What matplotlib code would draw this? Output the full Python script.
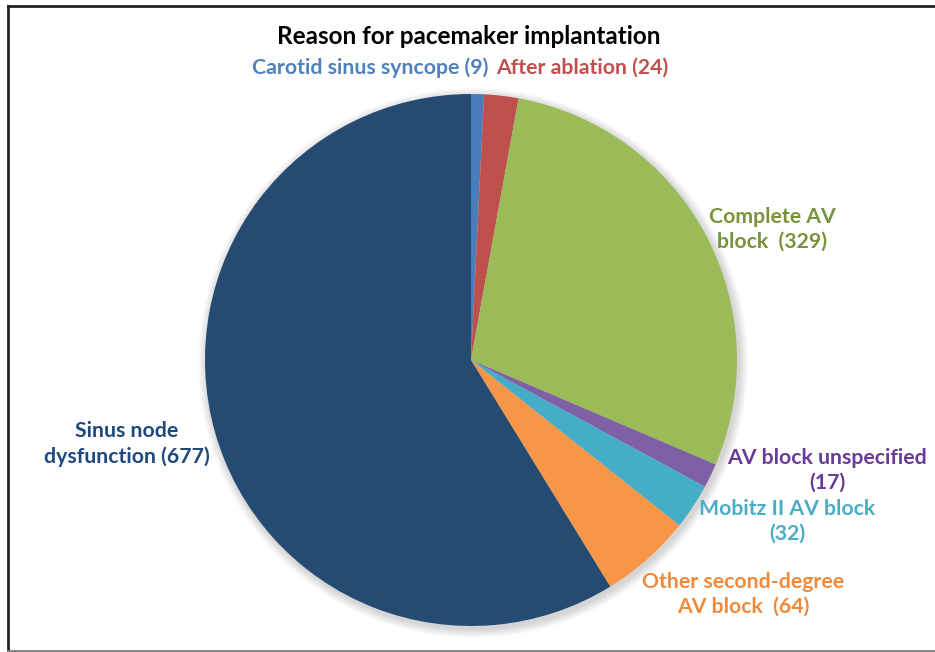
import matplotlib.pyplot as plt
from matplotlib.patches import Circle

# Причины имплантации ЭКС (по часовой стрелке от 12 часов)
reasons = ["Carotid sinus syncope ", "After ablation ", "Complete AV\nblock  ",
           "AV block unspecified\n", "Mobitz II AV block\n",
           "Other second-degree\nAV block  ", "Sinus node\ndysfunction "]
counts = [9, 24, 329, 17, 32, 64, 677]
slice_colors = ["#4A7EBB", "#C0504D", "#9BBB59", "#7F5FA5", "#44ADC8",
                "#F79646", "#264B73"]
text_colors = ["#4F81BD", "#C0504D", "#77933C", "#6A3A98", "#4BACC6",
               "#F08A3A", "#1F497D"]

plt.rcParams['font.family'] = ['Lato', 'DejaVu Sans']

fig = plt.figure(figsize=(9.35, 6.52), dpi=100)
ax = fig.add_axes([0, 0, 1, 1])

cx, cy, r = 471, 292, 266

# мягкая тень под диаграммой
for i in range(7):
    ax.add_patch(Circle((cx + 2, cy - 3), r + 1 + i * 1.3, color="k",
                        alpha=0.025, lw=0, zorder=0))

ax.pie(counts, colors=slice_colors, startangle=90, counterclock=False,
       center=(cx, cy), radius=r, wedgeprops=dict(linewidth=0),
       frame=False)
ax.set_xlim(0, 935)
ax.set_ylim(0, 652)
ax.set_aspect("equal")
ax.axis("off")

ax.text(469, 652 - 36, "Reason for pacemaker implantation", ha="center",
        va="center", fontsize=17.5, fontweight="bold", color="black")

labels = [f"{name}({n})" for name, n in zip(reasons, counts)]
fs = 15.3

# две маленькие доли подписаны в одну строку над диаграммой
ax.text(488, 652 - 68, labels[0], ha="right", va="center", fontsize=fs,
        fontweight="bold", color=text_colors[0])
ax.text(496, 652 - 68, labels[1], ha="left", va="center", fontsize=fs,
        fontweight="bold", color=text_colors[1])

# остальные подписи: центр (x, y) в пикселях от верхнего края
label_pos = [(772, 229), (827, 470), (787, 521), (743, 594), (127, 444)]
for (x, y), lab, col in zip(label_pos, labels[2:], text_colors[2:]):
    ax.text(x, 652 - y, lab, ha="center", va="center", fontsize=fs,
            fontweight="bold", color=col, linespacing=1.3)

# рамка
ax.plot([8, 8], [1, 646], color="#222222", lw=2, clip_on=False)
ax.plot([8, 940], [646, 646], color="#222222", lw=2, clip_on=False)
ax.plot([8, 940], [1, 1], color="#808080", lw=2, clip_on=False)

fig.savefig("out.png", dpi=100)
